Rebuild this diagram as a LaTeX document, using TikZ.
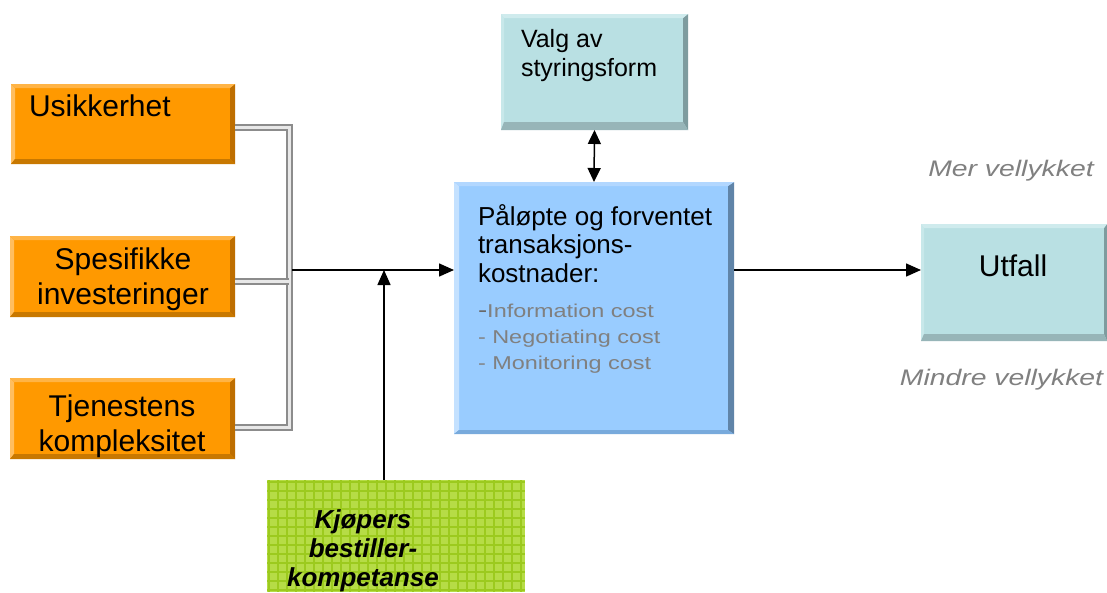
\documentclass[tikz,border=0pt]{standalone}
\usepackage{fontspec}
\setmainfont{Liberation Sans}
\usepackage{graphicx}
\usetikzlibrary{arrows.meta}

\definecolor{org}{RGB}{255,153,0}
\definecolor{orgL}{RGB}{255,190,95}
\definecolor{orgT}{RGB}{255,180,70}
\definecolor{orgD}{RGB}{200,120,0}
\definecolor{orgR}{RGB}{190,110,0}
\definecolor{blu}{RGB}{153,204,255}
\definecolor{bluL}{RGB}{196,225,255}
\definecolor{bluT}{RGB}{178,215,255}
\definecolor{bluR}{RGB}{96,132,168}
\definecolor{bluB}{RGB}{120,170,220}
\definecolor{tea}{RGB}{185,224,227}
\definecolor{teaL}{RGB}{200,232,234}
\definecolor{teaT}{RGB}{207,235,237}
\definecolor{teaR}{RGB}{126,156,159}
\definecolor{teaB}{RGB}{151,181,184}
\definecolor{grn}{RGB}{182,220,70}
\definecolor{grnL}{RGB}{156,202,30}
\definecolor{txtgray}{RGB}{128,128,128}
\definecolor{dashgray}{RGB}{105,105,105}
\definecolor{pipegray}{RGB}{140,140,140}
\definecolor{pipein}{RGB}{232,232,232}

\newcommand\bevelbox[9]{%
  \fill[#6] (#1.north west) -- (#1.south west) -- ([xshift=#2,yshift=#5]#1.south west) -- ([xshift=#2,yshift=-#3]#1.north west) -- cycle;
  \fill[#8] (#1.north east) -- (#1.south east) -- ([xshift=-#4,yshift=#5]#1.south east) -- ([xshift=-#4,yshift=-#3]#1.north east) -- cycle;
  \fill[#7] (#1.north west) -- (#1.north east) -- ([xshift=-#4,yshift=-#3]#1.north east) -- ([xshift=#2,yshift=-#3]#1.north west) -- cycle;
  \fill[#9] (#1.south west) -- (#1.south east) -- ([xshift=-#4,yshift=#5]#1.south east) -- ([xshift=#2,yshift=#5]#1.south west) -- cycle;
}
\newcommand\mylines[2][c]{\begin{tabular}[t]{@{}#1@{}}#2\end{tabular}}
\newcommand\wide[1]{\scalebox{1.26}[1]{#1}}

\begin{document}
\begin{tikzpicture}[x=1pt,y=-1pt,
  boxshape/.style={rectangle, inner sep=0pt, outer sep=0pt},
  obox/.style={boxshape, fill=org},
  bbox/.style={boxshape, fill=blu},
  tbox/.style={boxshape, fill=tea},
  gbox/.style={boxshape, fill=grn},
  lbl/.style={inner sep=0pt, outer sep=0pt, text=black},
  big/.style={lbl, font=\fontsize{30}{35.5}\selectfont},
  mtxt/.style={lbl, font=\fontsize{26}{28.5}\selectfont},
  vtxt/.style={lbl, font=\fontsize{25}{29.5}\selectfont},
  gtxt/.style={lbl, text=txtgray, font=\fontsize{18.6}{26}\selectfont},
  itxt/.style={lbl, text=txtgray, font=\fontsize{22.5}{26}\selectfont\itshape},
  ktxt/.style={lbl, font=\fontsize{26}{29}\selectfont\bfseries\itshape},
  pipe/.style={draw=pipegray, double=pipein, line width=2pt, double distance=3pt},
  arr/.style={draw=black, line width=1.5pt, -{Triangle[length=15pt,width=13pt]}},
  arrb/.style={draw=black, line width=1.5pt, {Triangle[length=14pt,width=13pt]}-{Triangle[length=14pt,width=13pt]}},
  gline/.style={draw=grnL, line width=1.3pt}
]
\useasboundingbox (0,0) rectangle (1107,592);
\fill[white] (0,0) rectangle (1107,592);

% orange boxes
\node[obox, minimum width=224pt, minimum height=80pt] (usik) at (123,124) {};
\bevelbox{usik}{4pt}{4pt}{5pt}{5pt}{orgL}{orgT}{orgR}{orgD}
\node[big, anchor=base west] (usikT) at (29,116) {Usikkerhet};

\node[obox, minimum width=225pt, minimum height=81pt] (spes) at (122.5,276.5) {};
\bevelbox{spes}{4pt}{4pt}{5pt}{5pt}{orgL}{orgT}{orgR}{orgD}
\node[big, anchor=base] (spesT) at (123,269) {\mylines{Spesifikke\\investeringer}};

\node[obox, minimum width=225pt, minimum height=81pt] (tjen) at (122.5,418.5) {};
\bevelbox{tjen}{4pt}{4pt}{5pt}{5pt}{orgL}{orgT}{orgR}{orgD}
\node[big, anchor=base] (tjenT) at (122,416) {\mylines{Tjenestens\\kompleksitet}};

% top box
\node[tbox, minimum width=187pt, minimum height=116pt] (valg) at (594.5,72) {};
\bevelbox{valg}{3pt}{4pt}{5pt}{8pt}{teaL}{teaT}{teaR}{teaB}
\node[vtxt, anchor=base west] (valgT) at (521,47) {\mylines[l]{Valg av\\styringsform}};

% central box
\node[bbox, minimum width=280pt, minimum height=252pt] (mid) at (594,308) {};
\bevelbox{mid}{5pt}{4pt}{6pt}{4pt}{bluL}{bluT}{bluR}{bluB}
\node[mtxt, anchor=base west] (midT) at (478,225) {\mylines[l]{Påløpte og forventet\\transaksjons-\\kostnader:}};
\node[gtxt, anchor=base west] (midL) at (478,317) {\mylines[l]{\wide{\textcolor{dashgray}{\fontsize{22}{26}\selectfont -}Information cost}\\\wide{- Negotiating cost}\\\wide{- Monitoring cost}}};

% outcome box
\node[tbox, minimum width=186pt, minimum height=117pt] (utf) at (1014,282.5) {};
\bevelbox{utf}{3pt}{4pt}{3pt}{7pt}{teaL}{teaT}{teaR}{teaB}
\node[big, anchor=base] (utfT) at (1013,276) {Utfall};

\node[itxt, anchor=base] (mer) at (1011,176) {\wide{Mer vellykket}};
\node[itxt, anchor=base] (mindre) at (1001.5,385) {\wide{Mindre vellykket}};

% green box
\node[gbox, minimum width=258pt, minimum height=112pt] (kjop) at (396,536) {};
\begin{scope}
  \clip (kjop.south west) rectangle (kjop.north east);
  \foreach \i in {0,...,29} {\draw[gline] ([xshift=\i*9pt+2pt]kjop.north west) -- ([xshift=\i*9pt+2pt]kjop.south west);}
  \foreach \i in {0,...,13} {\draw[gline] ([yshift=-\i*9pt-2pt]kjop.north west) -- ([yshift=-\i*9pt-2pt]kjop.north east);}
\end{scope}
\node[ktxt, anchor=base] (kjopT) at (363,528) {\mylines{Kjøpers\\bestiller-\\kompetanse}};

% pipes
\coordinate (ptop) at (289,127);
\coordinate (pmid) at (289,281);
\coordinate (pbot) at (289,427);
\draw[pipe] (usik.east |- ptop) -- (ptop) -- (pbot) -- (tjen.east |- pbot);
\draw[pipe] (spes.east |- pmid) -- (pmid);

% arrows
\coordinate (j) at (292,270);
\coordinate (k) at (384,270);
\draw[arr] (j) -- (j -| mid.west);
\draw[arr] (kjop.north -| k) -- (k);
\draw[arrb] (valg.south) -- (mid.north);
\draw[arr] (mid.east |- j) -- (utf.west |- j);
\end{tikzpicture}
\end{document}
